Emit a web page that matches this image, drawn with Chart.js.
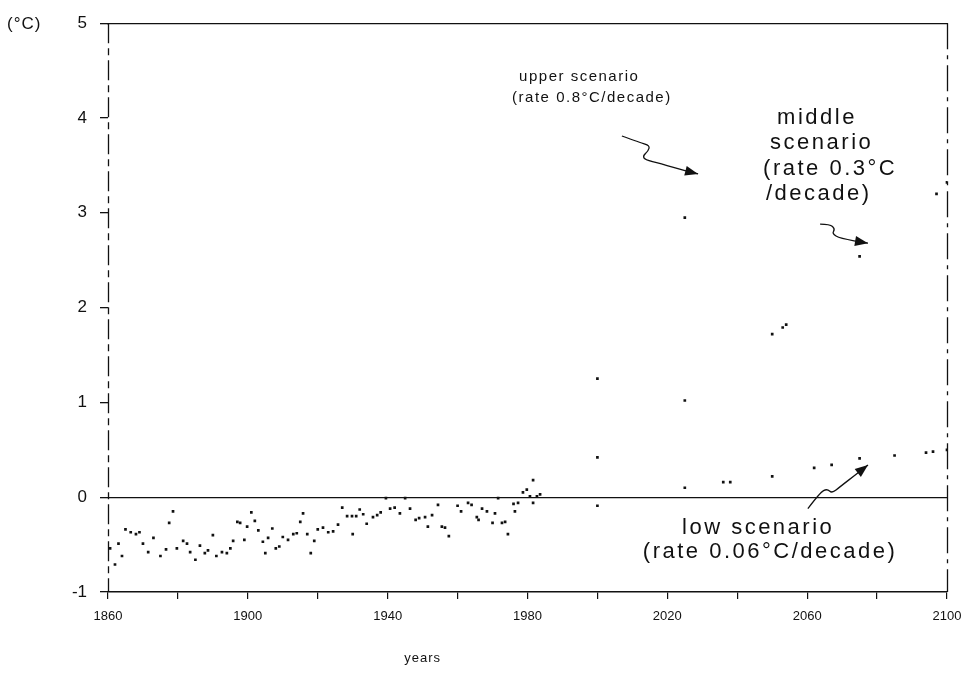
<!DOCTYPE html>
<html>
<head>
<meta charset="utf-8">
<script src="https://cdn.jsdelivr.net/npm/chart.js@4.4.1/dist/chart.umd.min.js"></script>
<style>
html, body { margin: 0; padding: 0; background: #fff; }
#wrap { width: 973px; height: 698px; }
</style>
</head>
<body>
<div id="wrap"><canvas id="chart" width="973" height="698"></canvas></div>
<script>
// Observed and projected global mean temperature (°C).
const obsYears = [
	1860.6, 1862, 1863, 1864, 1865, 1866.5, 1868, 1869, 1870, 1871.5,
	1873, 1875, 1876.6, 1877.5, 1878.6, 1879.7, 1881.5, 1882.6, 1883.5, 1885,
	1886.3, 1887.7, 1888.6, 1890, 1891, 1892.6, 1894, 1895, 1895.8, 1897,
	1897.8, 1899, 1899.8, 1901, 1902, 1903, 1904.3, 1905, 1905.8, 1907,
	1908, 1909, 1910, 1911.5, 1913, 1914, 1915, 1915.8, 1917, 1918,
	1919, 1920, 1921.5, 1923, 1924.4, 1925.8, 1927, 1928.4, 1929.8, 1930,
	1931, 1932, 1933, 1934, 1935.8, 1937, 1938, 1939.5, 1940.7, 1942,
	1943.5, 1945, 1946.4, 1948, 1949, 1950.7, 1951.5, 1952.7, 1954.4, 1955.5,
	1956.4, 1957.5, 1960, 1961, 1963, 1964, 1965.5, 1966, 1967, 1968.4,
	1970, 1970.7, 1971.6, 1972.7, 1973.6, 1974.4, 1976, 1976.4, 1977.3, 1978.7,
	1979.8, 1980.7, 1981.6, 1981.6, 1982.7, 1983.6,
];
const obsTemps = [
	-0.54, -0.71, -0.49, -0.62, -0.34, -0.37, -0.39, -0.37, -0.49, -0.58,
	-0.43, -0.62, -0.55, -0.27, -0.15, -0.54, -0.46, -0.49, -0.58, -0.66,
	-0.51, -0.59, -0.56, -0.40, -0.62, -0.58, -0.59, -0.54, -0.46, -0.26,
	-0.27, -0.45, -0.31, -0.16, -0.25, -0.35, -0.47, -0.59, -0.43, -0.33,
	-0.54, -0.52, -0.42, -0.45, -0.39, -0.38, -0.26, -0.17, -0.39, -0.59,
	-0.46, -0.34, -0.32, -0.37, -0.36, -0.29, -0.11, -0.20, -0.20, -0.39,
	-0.20, -0.13, -0.18, -0.28, -0.21, -0.19, -0.16, -0.01, -0.12, -0.11,
	-0.17, -0.01, -0.12, -0.24, -0.22, -0.21, -0.31, -0.19, -0.08, -0.31,
	-0.32, -0.41, -0.09, -0.15, -0.06, -0.08, -0.21, -0.24, -0.12, -0.15,
	-0.27, -0.17, -0.01, -0.27, -0.26, -0.39, -0.07, -0.15, -0.06, 0.05,
	0.08, 0.01, 0.18, -0.06, 0.01, 0.03,
];

const upperYears = [2000, 2025];
const upperTemps = [1.25, 2.95];
const middleYears = [2000, 2025, 2050, 2053, 2054, 2075, 2097, 2100];
const middleTemps = [0.42, 1.02, 1.72, 1.79, 1.82, 2.54, 3.2, 3.32];
const lowYears = [2000, 2025, 2036, 2038, 2050, 2062, 2067, 2075, 2085, 2094, 2096, 2100];
const lowTemps = [-0.09, 0.1, 0.16, 0.16, 0.22, 0.31, 0.34, 0.41, 0.44, 0.47, 0.48, 0.5];

const xTickYears = [1860, 1880, 1900, 1920, 1940, 1960, 1980, 2000, 2020, 2040, 2060, 2080, 2100];
const xLabelYears = [1860, 1900, 1940, 1980, 2020, 2060, 2100];
const yTicks = [-1, 0, 1, 2, 3, 4, 5];

// annotation text, anchored at (year, °C), left aligned
const noteTexts = ['upper scenario', '(rate 0.8°C/decade)', 'middle', 'scenario', '(rate 0.3°C', '/decade)', 'low scenario', '(rate 0.06°C/decade)'];
const noteYears = [1977.6, 1975.6, 2051.4, 2049.4, 2047.4, 2048.2, 2024.2, 2013.0];
const noteTemps = [4.43, 4.21, 4.0, 3.74, 3.46, 3.2, -0.32, -0.58];
const noteSizes = [15, 15, 22, 22, 22, 22, 22, 22];

// squiggly pointer arrows, last point is the tip
const arrowUpper = [[2007.0, 3.81], [2012.2, 3.74], [2015.0, 3.71], [2014.5, 3.65], [2013.0, 3.60], [2013.6, 3.56], [2017.9, 3.52], [2025.6, 3.44], [2028.8, 3.41]];
const arrowMiddle = [[2063.7, 2.88], [2066.5, 2.88], [2068.0, 2.83], [2067.1, 2.78], [2069.4, 2.73], [2077.4, 2.68]];
const arrowLow = [[2060.2, -0.12], [2063.7, 0.05], [2065.7, 0.09], [2067.1, 0.04], [2069.4, 0.11], [2074.3, 0.25], [2077.4, 0.34]];

const INK = '#111';
const FONT = '"Liberation Sans", Arial, sans-serif';

const pts = (xs, ys) => xs.map((x, i) => ({ x, y: ys[i] }));

function dotSet(label, xs, ys) {
	return {
		label, data: pts(xs, ys),
		pointStyle: 'rect', pointRadius: 1.9,
		backgroundColor: INK, borderColor: INK, borderWidth: 0,
		showLine: false,
	};
}

function drawArrow(ctx, x, y, path) {
	const p = path.map(([a, b]) => [x.getPixelForValue(a), y.getPixelForValue(b)]);
	ctx.beginPath();
	ctx.moveTo(p[0][0], p[0][1]);
	for (let i = 1; i < p.length - 1; i++) {
		const mx = (p[i][0] + p[i + 1][0]) / 2, my = (p[i][1] + p[i + 1][1]) / 2;
		ctx.quadraticCurveTo(p[i][0], p[i][1], mx, my);
	}
	const tip = p[p.length - 1], prev = p[p.length - 2];
	ctx.lineTo(tip[0], tip[1]);
	ctx.stroke();
	const ang = Math.atan2(tip[1] - prev[1], tip[0] - prev[0]);
	const L = 13, W = 5;
	ctx.beginPath();
	ctx.moveTo(tip[0], tip[1]);
	ctx.lineTo(tip[0] - L * Math.cos(ang) + W * Math.sin(ang), tip[1] - L * Math.sin(ang) - W * Math.cos(ang));
	ctx.lineTo(tip[0] - L * Math.cos(ang) - W * Math.sin(ang), tip[1] - L * Math.sin(ang) + W * Math.cos(ang));
	ctx.closePath();
	ctx.fill();
}

// broken vertical frame lines on both sides, as in the scan
const sideFrame = {
	id: 'sideFrame',
	beforeDatasetsDraw(chart) {
		const { ctx, chartArea: a } = chart;
		ctx.save();
		ctx.strokeStyle = INK;
		ctx.lineWidth = 1.3;
		ctx.setLineDash([20, 5, 7, 5]);
		ctx.beginPath();
		ctx.moveTo(Math.round(a.left) + 0.5, a.top);
		ctx.lineTo(Math.round(a.left) + 0.5, a.bottom);
		ctx.stroke();
		ctx.setLineDash([26, 6, 4, 6]);
		ctx.beginPath();
		ctx.moveTo(Math.round(a.right) + 0.5, a.top);
		ctx.lineTo(Math.round(a.right) + 0.5, a.bottom);
		ctx.stroke();
		ctx.restore();
	},
};

const annotate = {
	id: 'annotate',
	afterDraw(chart) {
		const { ctx, scales: { x, y } } = chart;
		ctx.save();
		ctx.fillStyle = INK;
		ctx.strokeStyle = INK;
		ctx.lineWidth = 1.3;
		ctx.textBaseline = 'middle';
		ctx.textAlign = 'left';
		noteTexts.forEach((t, i) => {
			ctx.font = noteSizes[i] + 'px ' + FONT;
			ctx.letterSpacing = (noteSizes[i] > 16 ? 2.5 : 1.5) + 'px';
			ctx.fillText(t, x.getPixelForValue(noteYears[i]), y.getPixelForValue(noteTemps[i]));
		});
		ctx.letterSpacing = '1px';
		[arrowUpper, arrowMiddle, arrowLow].forEach(a => drawArrow(ctx, x, y, a));
		// unit and axis caption
		ctx.font = '17px ' + FONT;
		ctx.fillText('(°C)', 7, y.getPixelForValue(5) + 1);
		ctx.font = '13px ' + FONT;
		ctx.textAlign = 'center';
		ctx.fillText('years', x.getPixelForValue(1950), y.bottom + 66);
		ctx.restore();
	},
};

new Chart(document.getElementById('chart'), {
	type: 'scatter',
	data: {
		datasets: [
			dotSet('observed', obsYears, obsTemps),
			dotSet('upper scenario', upperYears, upperTemps),
			dotSet('middle scenario', middleYears, middleTemps),
			dotSet('low scenario', lowYears, lowTemps),
		],
	},
	options: {
		responsive: false,
		animation: false,
		layout: { padding: { top: 22, right: 26, left: 0, bottom: 0 } },
		plugins: { legend: { display: false }, tooltip: { enabled: false } },
		scales: {
			x: {
				type: 'linear', position: 'bottom', min: 1860, max: 2100,
				afterBuildTicks(s) { s.ticks = xTickYears.map(v => ({ value: v })); },
				ticks: {
					autoSkip: false, maxRotation: 0, padding: 10, color: INK,
					font: { family: FONT, size: 13 },
					callback: v => (xLabelYears.includes(v) ? String(v) : ''),
				},
				grid: { drawOnChartArea: false, drawTicks: true, tickLength: 7, color: INK, lineWidth: 1.2 },
				border: { display: true, color: INK, width: 1.4 },
				afterFit(s) { s.height = 106; },
			},
			y: {
				type: 'linear', position: 'left', min: -1, max: 5,
				afterBuildTicks(s) { s.ticks = yTicks.map(v => ({ value: v })); },
				ticks: { padding: 13, color: INK, font: { family: FONT, size: 17 } },
				grid: {
					drawOnChartArea: true, drawTicks: true, tickLength: 8, lineWidth: 1.3,
					color: c => (c.tick && c.tick.value === 0 ? INK : 'rgba(0,0,0,0)'),
					tickColor: INK,
				},
				border: { display: false },
				afterFit(s) { s.width = 108; },
			},
			xTop: {
				type: 'linear', position: 'top', min: 1860, max: 2100,
				ticks: { display: false }, grid: { display: false },
				border: { display: true, color: INK, width: 1.3 },
				afterFit(s) { s.height = 0; },
			},
			yRight: {
				type: 'linear', position: 'right', min: -1, max: 5,
				ticks: { display: false }, grid: { display: false },
				border: { display: false },
				afterFit(s) { s.width = 0; },
			},
		},
	},
	plugins: [sideFrame, annotate],
});
</script>
</body>
</html>
